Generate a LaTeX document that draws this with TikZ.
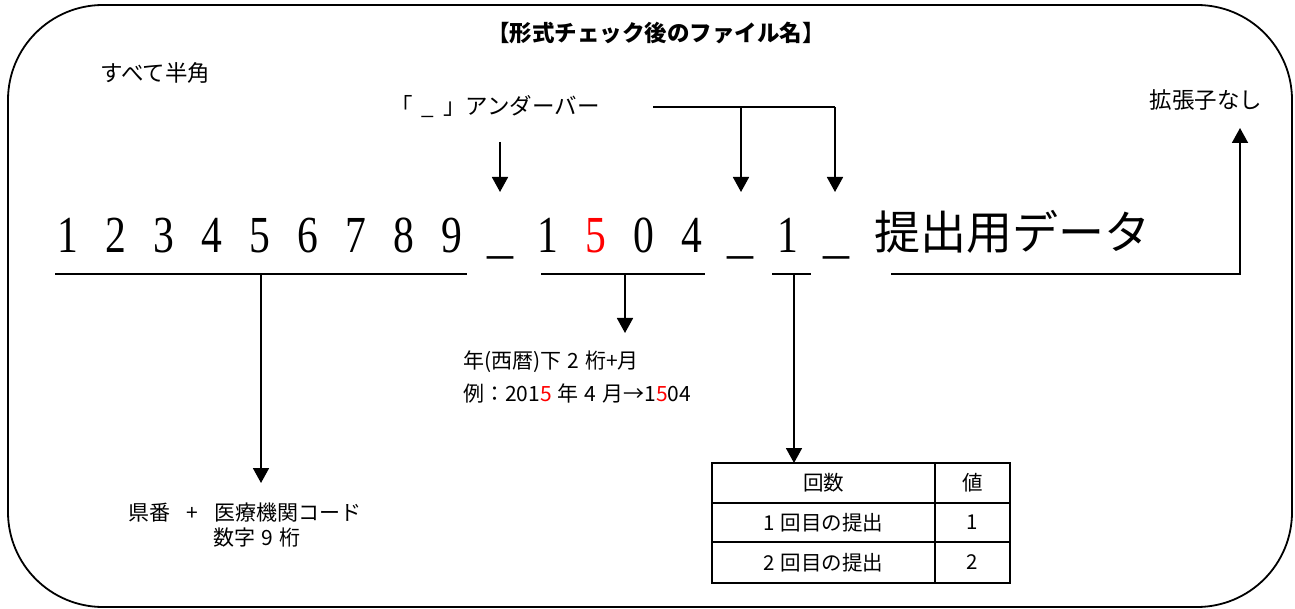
\documentclass[tikz,border=0pt]{standalone}
\usepackage{fontspec}
\usepackage{graphicx}
\setmainfont{Liberation Serif}
\newfontfamily\jp{Noto Sans CJK JP}
\usetikzlibrary{arrows.meta}
\definecolor{hired}{RGB}{255,0,0}
\newcommand{\gp}{\hspace{6pt}}
\begin{document}
\begin{tikzpicture}[x=1pt,y=-1pt,
  conn/.style={line width=1.8pt},
  arr/.style={conn,-{Triangle[width=16pt,length=15pt]}},
  big/.style={anchor=base,inner sep=0pt,font=\fontsize{52}{52}\selectfont},
  bigjp/.style={anchor=base west,inner sep=0pt,font=\jp\fontsize{46}{46}\selectfont},
  lbl/.style={inner sep=0pt,font=\jp\fontsize{21}{24}\selectfont},
  lblb/.style={inner sep=0pt,font=\jp\fontsize{22.5}{26}\selectfont},
  cell/.style={draw,line width=1.8pt,inner sep=0pt,outer sep=0pt,font=\jp\fontsize{20.5}{24}\selectfont},
]
\useasboundingbox (0,0) rectangle (1295,609);
% frame
\draw[line width=1.8pt, rounded corners=95pt] (8,5) rectangle (1292,607);
% title
\node[inner sep=0pt,font=\jp\bfseries\fontsize{22.5}{26}\selectfont] (title) at (656,33) {【形式チェック後のファイル名】};
\node[lblb,anchor=west] (hankaku) at (100,73) {すべて半角};
\node[lblb,anchor=west] (underbar) at (390,107) {「\hspace{9pt}\_\hspace{9pt}」アンダーバー};
\node[lblb] (noext) at (1206,100) {拡張子なし};
% big file name
\foreach \d/\x [count=\i] in {1/68,2/116,3/164,4/212,5/260,6/308,7/356,8/404,9/452}
  {\node[big] (d\i) at (\x,253) {\scalebox{0.8}[1]{\d}};}
\node[big] (u1) at (500,253) {\_};
\node[big] (y1) at (548,253) {\scalebox{0.8}[1]{1}};
\node[big,text=hired] (y2) at (596,253) {\scalebox{0.8}[1]{5}};
\node[big] (y3) at (644,253) {\scalebox{0.8}[1]{0}};
\node[big] (y4) at (692,253) {\scalebox{0.8}[1]{4}};
\node[big] (u2) at (740,253) {\_};
\node[big] (n1) at (788,253) {\scalebox{0.8}[1]{1}};
\node[big] (u3) at (836,253) {\_};
\node[bigjp] (data) at (874,250) {提出用データ};
% arrows to underscores
\coordinate (ua) at (500,142);
\coordinate (ub) at (500,192);
\draw[arr] (ua) -- (ub);
\coordinate (hl0) at (653,107);
\coordinate (hl1) at (741,107);
\coordinate (hl2) at (835,107);
\coordinate (hl1t) at (741,192);
\coordinate (hl2t) at (835,192);
\draw[conn] (hl0) -- (hl2);
\draw[arr] (hl1) -- (hl1t);
\draw[arr] (hl2) -- (hl2t);
% labels
\node[lbl] (code1) at (245,513) {県番\hspace{16pt}+\hspace{16pt}医療機関コード};
\node[lbl] (code2) at (257,538) {数字\gp 9\gp 桁};
\node[lbl,anchor=west] (ym1) at (463,362) {年(西暦)下\gp 2\gp 桁+月};
\node[lbl,anchor=west] (ym2) at (463,393) {例：201\textcolor{hired}{5}\gp 年\gp 4\gp 月→1\textcolor{hired}{5}04};
% underline 1
\coordinate (a0) at (55,274);
\coordinate (a1) at (467,274);
\coordinate (am) at (261,274);
\coordinate (at) at (261,483);
\draw[conn] (a0) -- (a1);
\draw[arr] (am) -- (at);
% underline 2
\coordinate (b0) at (541,274);
\coordinate (b1) at (705,274);
\coordinate (bm) at (625,274);
\coordinate (bt) at (625,333);
\draw[conn] (b0) -- (b1);
\draw[arr] (bm) -- (bt);
% underline 3 and table
\node[cell,minimum width=223pt,minimum height=40pt] (h1) at (823.5,483) {回数};
\node[cell,minimum width=75pt,minimum height=40pt] (h2) at (972.5,483) {値};
\node[cell,minimum width=223pt,minimum height=39pt] (r11) at (823.5,522.5) {1\gp 回目の提出};
\node[cell,minimum width=75pt,minimum height=39pt] (r12) at (972.5,522.5) {1};
\node[cell,minimum width=223pt,minimum height=41pt] (r21) at (823.5,562.5) {2\gp 回目の提出};
\node[cell,minimum width=75pt,minimum height=41pt] (r22) at (972.5,562.5) {2};
\coordinate (c0) at (772,274);
\coordinate (c1) at (811,274);
\coordinate (cm) at (794,274);
\draw[conn] (c0) -- (c1);
\draw[arr] (cm) -- (cm |- h1.north);
% underline 4 to extension label
\coordinate (e0) at (891,274);
\coordinate (e1) at (1240,274);
\coordinate (et) at (1240,128);
\draw[arr] (e0) -- (e1) -- (et);
\end{tikzpicture}
\end{document}
